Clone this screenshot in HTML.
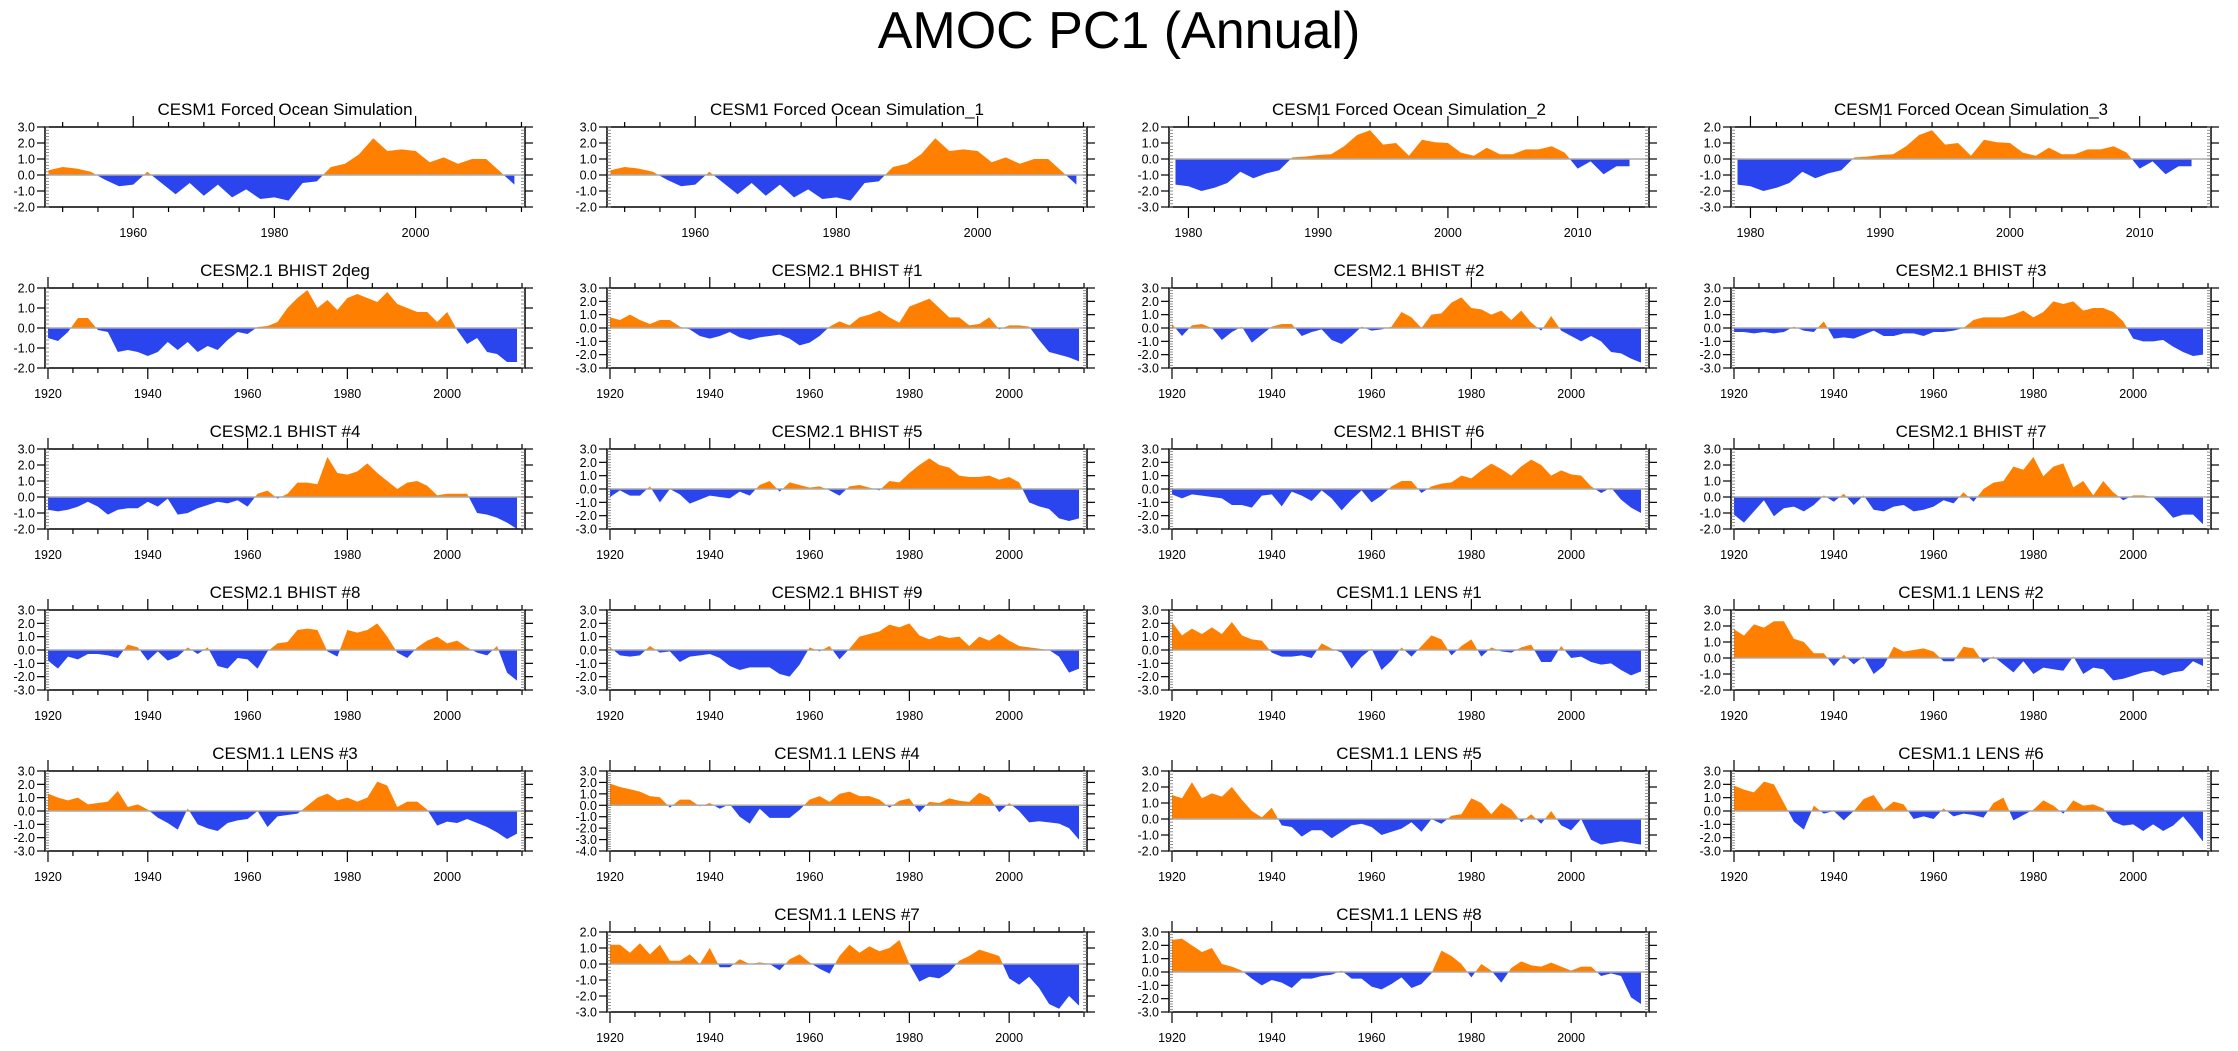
<!DOCTYPE html>
<html><head><meta charset="utf-8"><style>
html,body{margin:0;padding:0;background:#fff;}
svg{display:block;font-family:"Liberation Sans",sans-serif;}
</style></head><body>
<svg id="chart" width="2238" height="1051" viewBox="0 0 2238 1051">
<text x="1119" y="48" text-anchor="middle" font-size="52">AMOC PC1 (Annual)</text>
</svg>
<script>
// ----- data -----
const yearsForced = [1948,1950,1952,1954,1956,1958,1960,1962,1964,1966,1968,1970,1972,1974,1976,1978,1980,1982,1984,1986,1988,1990,1992,1994,1996,1998,2000,2002,2004,2006,2008,2010,2012,2014];
const forcedA = [0.3,0.5,0.4,0.2,-0.3,-0.7,-0.6,0.2,-0.5,-1.2,-0.5,-1.3,-0.6,-1.4,-0.9,-1.5,-1.4,-1.6,-0.5,-0.4,0.5,0.7,1.3,2.3,1.5,1.6,1.5,0.8,1.1,0.7,1.0,1.0,0.2,-0.6];
const yearsForcedB = [1979,1980,1981,1982,1983,1984,1985,1986,1987,1988,1989,1990,1991,1992,1993,1994,1995,1996,1997,1998,1999,2000,2001,2002,2003,2004,2005,2006,2007,2008,2009,2010,2011,2012,2013,2014];
const forcedB = [-1.6,-1.7,-2.0,-1.8,-1.5,-0.8,-1.2,-0.9,-0.7,0.1,0.15,0.25,0.3,0.8,1.5,1.8,0.9,1.0,0.2,1.2,1.05,1.0,0.4,0.2,0.7,0.3,0.3,0.6,0.6,0.8,0.4,-0.6,-0.15,-0.95,-0.45,-0.45];
const yearsLong = [];
for (let y = 1920; y <= 2014; y += 2) yearsLong.push(y);
const bhist2deg = [-0.5,-0.65,-0.2,0.5,0.5,-0.1,-0.2,-1.2,-1.1,-1.2,-1.4,-1.2,-0.7,-1.1,-0.7,-1.2,-0.9,-1.1,-0.6,-0.2,-0.3,0.05,0.1,0.3,1.0,1.5,1.9,1.0,1.4,0.9,1.5,1.7,1.5,1.3,1.8,1.2,1.0,0.8,0.8,0.3,0.8,-0.1,-0.8,-0.5,-1.2,-1.3,-1.7,-1.7];
const bhist1 = [0.8,0.6,1.0,0.6,0.3,0.6,0.6,0.1,-0.1,-0.6,-0.8,-0.6,-0.3,-0.7,-0.9,-0.7,-0.6,-0.5,-0.8,-1.3,-1.1,-0.6,0.1,0.5,0.2,0.8,1.0,1.3,0.8,0.4,1.6,1.9,2.2,1.5,0.8,0.8,0.2,0.3,0.8,-0.1,0.2,0.2,0.1,-0.9,-1.8,-2.0,-2.2,-2.5];
const bhist2 = [0.3,-0.6,0.2,0.3,0.0,-0.9,-0.3,0.1,-1.1,-0.5,0.1,0.3,0.3,-0.6,-0.3,-0.1,-0.9,-1.2,-0.6,0.1,-0.2,-0.1,0.1,1.2,0.8,0.0,1.0,1.1,1.9,2.3,1.5,1.4,1.0,1.3,0.6,1.3,0.4,-0.2,0.9,-0.2,-0.6,-1.0,-0.6,-1.0,-1.8,-1.9,-2.3,-2.6];
const bhist3 = [-0.3,-0.3,-0.4,-0.3,-0.4,-0.3,0.1,-0.2,-0.3,0.5,-0.8,-0.7,-0.8,-0.5,-0.2,-0.6,-0.6,-0.4,-0.4,-0.6,-0.3,-0.3,-0.2,0.0,0.6,0.8,0.8,0.8,1.0,1.3,0.8,1.2,2.0,1.8,2.0,1.3,1.5,1.5,1.2,0.5,-0.8,-1.0,-1.0,-0.9,-1.4,-1.8,-2.1,-2.0];
const bhist4 = [-0.8,-0.9,-0.8,-0.6,-0.3,-0.6,-1.1,-0.8,-0.7,-0.7,-0.3,-0.6,-0.1,-1.1,-1.0,-0.7,-0.5,-0.3,-0.4,-0.2,-0.6,0.2,0.4,-0.1,0.2,0.9,0.9,0.8,2.5,1.5,1.4,1.6,2.1,1.5,1.0,0.5,0.9,1.0,0.7,0.1,0.2,0.2,0.2,-1.0,-1.1,-1.3,-1.6,-2.0];
const bhist5 = [-0.6,-0.1,-0.5,-0.5,0.2,-1.0,0.0,-0.4,-1.1,-0.8,-0.5,-0.6,-0.7,-0.2,-0.5,0.3,0.6,-0.2,0.5,0.3,0.1,0.2,-0.1,-0.5,0.2,0.3,0.1,-0.1,0.6,0.5,1.2,1.8,2.3,1.8,1.6,1.0,0.9,0.9,1.0,0.7,0.9,0.5,-1.0,-1.3,-1.5,-2.2,-2.4,-2.2];
const bhist6 = [-0.4,-0.7,-0.4,-0.5,-0.6,-0.7,-1.2,-1.2,-1.4,-0.5,-0.4,-1.3,-0.2,-0.5,-0.9,-0.1,-0.7,-1.6,-0.8,-0.1,-1.0,-0.5,0.2,0.6,0.6,-0.3,0.2,0.4,0.5,1.0,0.8,1.4,1.9,1.5,1.0,1.7,2.2,1.8,1.0,1.4,1.1,1.0,0.2,-0.3,0.1,-0.8,-1.4,-1.8];
const bhist7 = [-1.1,-1.6,-0.9,-0.2,-1.2,-0.7,-0.6,-0.9,-0.5,0.1,-0.3,0.2,-0.5,0.1,-0.8,-0.9,-0.6,-0.5,-0.9,-0.8,-0.6,-0.2,-0.4,0.3,-0.3,0.5,0.9,1.0,1.9,1.7,2.5,1.3,1.9,2.1,0.6,1.0,0.1,1.0,0.3,-0.2,0.1,0.1,0.0,-0.6,-1.3,-1.1,-1.1,-1.7];
const bhist8 = [-0.8,-1.4,-0.5,-0.7,-0.3,-0.3,-0.4,-0.6,0.4,0.2,-0.8,-0.1,-0.8,-0.5,0.2,-0.3,0.2,-1.2,-1.4,-0.6,-0.7,-1.4,-0.1,0.5,0.6,1.5,1.6,1.5,-0.1,-0.5,1.5,1.3,1.5,2.0,1.0,-0.2,-0.6,0.2,0.7,1.0,0.5,0.7,0.2,-0.2,-0.4,0.3,-1.7,-2.3];
const bhist9 = [0.2,-0.4,-0.5,-0.4,0.3,-0.2,-0.1,-0.9,-0.5,-0.4,-0.3,-0.6,-1.2,-1.5,-1.3,-1.3,-1.3,-1.8,-2.0,-1.1,0.2,-0.1,0.3,-0.7,0.1,1.0,1.2,1.4,1.9,1.7,2.0,1.1,0.8,1.1,0.9,1.0,0.3,1.0,0.7,1.2,0.7,0.3,0.2,0.1,0.0,-0.5,-1.7,-1.4];
const lens1 = [2.1,1.1,1.6,1.2,1.7,1.2,2.1,1.1,0.8,0.7,-0.2,-0.5,-0.5,-0.4,-0.6,0.5,0.1,-0.2,-1.4,-0.5,0.1,-1.5,-0.8,0.2,-0.5,0.3,1.1,0.8,-0.4,0.3,0.8,-0.5,0.2,-0.1,-0.2,0.2,0.4,-0.9,-0.9,0.3,-0.6,-0.5,-0.9,-1.1,-1.0,-1.5,-1.9,-1.6];
const lens2 = [1.8,1.4,2.1,1.9,2.3,2.3,1.2,1.0,0.3,0.3,-0.5,0.2,-0.4,0.1,-1.0,-0.5,0.7,0.4,0.5,0.6,0.4,-0.2,-0.2,0.7,0.6,-0.3,0.1,-0.4,-0.9,-0.2,-1.0,-0.6,-0.7,-0.8,0.1,-1.0,-0.6,-0.7,-1.4,-1.3,-1.1,-0.9,-0.8,-1.1,-0.9,-0.8,-0.2,-0.5];
const lens3 = [1.3,1.0,0.8,1.0,0.5,0.6,0.7,1.5,0.3,0.5,0.1,-0.5,-0.9,-1.4,0.2,-1.0,-1.3,-1.5,-0.9,-0.7,-0.6,0.0,-1.2,-0.4,-0.3,-0.2,0.4,1.0,1.3,0.8,1.0,0.7,1.0,2.2,1.9,0.3,0.7,0.7,0.1,-1.1,-0.8,-0.9,-0.6,-0.9,-1.2,-1.6,-2.1,-1.7];
const lens4 = [1.9,1.6,1.4,1.2,0.8,0.7,-0.2,0.5,0.5,-0.1,0.2,-0.3,0.1,-1.0,-1.6,-0.3,-1.1,-1.1,-1.1,-0.4,0.5,0.8,0.3,1.0,1.2,0.8,0.8,0.5,-0.2,0.4,0.6,-0.6,0.3,0.2,0.6,0.4,0.3,1.1,0.7,-0.6,0.2,-0.5,-1.5,-1.4,-1.5,-1.6,-2.0,-3.0];
const lens5 = [1.5,1.3,2.3,1.3,1.6,1.4,2.0,1.2,0.5,0.1,0.7,-0.4,-0.5,-1.1,-0.7,-0.7,-1.2,-0.8,-0.4,-0.3,-0.5,-1.0,-0.8,-0.6,-0.2,-0.8,0.0,-0.3,0.2,0.3,1.3,1.0,0.3,1.0,0.6,-0.2,0.3,-0.3,0.5,-0.4,-0.7,0.0,-1.3,-1.6,-1.5,-1.4,-1.5,-1.6];
const lens6 = [1.9,1.6,1.4,2.2,2.0,0.6,-0.8,-1.4,0.4,-0.2,0.0,-0.7,0.0,0.9,1.2,0.1,0.7,0.5,-0.6,-0.4,-0.6,0.2,-0.4,-0.2,-0.3,-0.5,0.6,1.0,-0.7,-0.3,0.1,0.8,0.4,-0.2,0.8,0.4,0.5,0.2,-0.8,-1.1,-1.0,-1.5,-1.0,-1.5,-1.1,-0.4,-1.3,-2.3];
const lens7 = [1.2,1.2,0.7,1.3,0.6,1.2,0.2,0.2,0.6,0.0,1.0,-0.2,-0.2,0.3,0.0,0.1,0.0,-0.4,0.3,0.6,0.1,-0.3,-0.6,0.5,1.2,0.7,1.1,0.8,1.0,1.5,0.0,-1.1,-0.8,-0.9,-0.5,0.2,0.5,0.9,0.7,0.5,-0.9,-1.3,-0.8,-1.5,-2.5,-2.8,-2.0,-2.6];
const lens8 = [2.4,2.5,2.0,1.5,1.8,0.6,0.4,0.1,-0.5,-1.0,-0.6,-0.8,-1.2,-0.5,-0.5,-0.3,-0.2,0.1,-0.5,-0.5,-1.1,-1.3,-0.9,-0.4,-1.2,-0.9,-0.1,1.6,1.2,0.6,-0.4,0.6,0.1,-0.8,0.3,0.8,0.5,0.4,0.7,0.4,0.1,0.4,0.4,-0.3,-0.1,-0.3,-1.9,-2.4];

const panelTitles = ["CESM1 Forced Ocean Simulation","CESM1 Forced Ocean Simulation_1","CESM1 Forced Ocean Simulation_2","CESM1 Forced Ocean Simulation_3","CESM2.1 BHIST 2deg","CESM2.1 BHIST #1","CESM2.1 BHIST #2","CESM2.1 BHIST #3","CESM2.1 BHIST #4","CESM2.1 BHIST #5","CESM2.1 BHIST #6","CESM2.1 BHIST #7","CESM2.1 BHIST #8","CESM2.1 BHIST #9","CESM1.1 LENS #1","CESM1.1 LENS #2","CESM1.1 LENS #3","CESM1.1 LENS #4","CESM1.1 LENS #5","CESM1.1 LENS #6","CESM1.1 LENS #7","CESM1.1 LENS #8"];
const yMax = [3,3,2,2, 2,3,3,3, 3,3,3,3, 3,3,3,3, 3,3,3,3, 2,3];
const yMin = [-2,-2,-3,-3, -2,-3,-3,-3, -2,-3,-3,-2, -3,-3,-3,-2, -3,-4,-2,-3, -3,-3];
const xMin = [1947.5,1947.5,1978.5,1978.5];
const xMax = [2015.5,2015.5,2015.5,2015.5];

const seriesYears = [yearsForced,yearsForced,yearsForcedB,yearsForcedB];
const seriesVals = [forcedA,forcedA,forcedB,forcedB,bhist2deg,bhist1,bhist2,bhist3,bhist4,bhist5,bhist6,bhist7,bhist8,bhist9,lens1,lens2,lens3,lens4,lens5,lens6,lens7,lens8];

// ----- drawing -----
const NS = "http://www.w3.org/2000/svg";
const svg = document.getElementById("chart");
function mk(tag, attrs, parent){
  const e = document.createElementNS(NS, tag);
  for (const k in attrs) e.setAttribute(k, attrs[k]);
  (parent||svg).appendChild(e);
  return e;
}
const PW = 480, PH = 80;
function panelPos(i){
  if (i < 20) return {c: i % 4, r: Math.floor(i/4)};
  return {c: i - 19, r: 5};
}
for (let i = 0; i < seriesVals.length; i++){
  const p = panelPos(i);
  const L = 45 + 562*p.c, T = 127 + 161*p.r;
  const g = mk("g", {});
  
  
  const yrs = i < 4 ? seriesYears[i] : yearsLong;
  const vals = seriesVals[i];
  const x0 = i < 4 ? xMin[i] : 1919.4, x1 = i < 4 ? xMax[i] : 2015.6;
  const ymx = yMax[i], ymn = yMin[i];
  const sx = v => L + (v - x0) / (x1 - x0) * PW;
  const sy = v => T + (ymx - v) / (ymx - ymn) * PH;
  const t = mk("text", {x: L + PW/2, y: T - 12, "text-anchor": "middle", "font-size": 17}, g);
  t.textContent = panelTitles[i];
  
  
  const z = sy(0);
  let d = "M" + sx(yrs[0]) + "," + z;
  for (let k = 0; k < vals.length; k++) d += " L" + sx(yrs[k]) + "," + sy(vals[k]);
  d += " L" + sx(yrs[yrs.length-1]) + "," + z + " Z";
  const cidA = "ca" + i, cidB = "cb" + i;
  const defs = mk("defs", {}, g);
  const cpA = mk("clipPath", {id: cidA}, defs);
  mk("rect", {x: L, y: T, width: PW, height: z - T}, cpA);
  const cpB = mk("clipPath", {id: cidB}, defs);
  mk("rect", {x: L, y: z, width: PW, height: T + PH - z}, cpB);
  const pa = mk("path", {d: d, fill: "#ff8000", "clip-path": "url(#" + cidA + ")"}, g);
  
  
  const pb = mk("path", {d: d, fill: "#2a44ee", "clip-path": "url(#" + cidB + ")"}, g);
  
  
  const zl = mk("line", {x1: L, x2: L + PW, y1: z, y2: z, stroke: "#aaa", "stroke-width": 1.5}, g);
  
  
  const fr = mk("rect", {x: L, y: T, width: PW, height: PH, fill: "none", stroke: "#000", "stroke-width": 1.5}, g);
  
  
  for (let v = ymn; v <= ymx + 1e-6; v += 1){
    const y = sy(v);
    mk("line", {x1: L - 8, x2: L, y1: y, y2: y, stroke: "#000", "stroke-width": 1.2}, g);
    mk("line", {x1: L + PW, x2: L + PW + 8, y1: y, y2: y, stroke: "#000", "stroke-width": 1.2}, g);
    const lb = mk("text", {x: L - 10, y: y + 4.5, "text-anchor": "end", "font-size": 12.5}, g);
    lb.textContent = v.toFixed(1);
    
    
  }
  for (let v = ymn; v <= ymx + 1e-6; v += 0.2){
    const y = sy(v);
    mk("line", {x1: L, x2: L + 4, y1: y, y2: y, stroke: "#777", "stroke-width": 0.8}, g);
    mk("line", {x1: L + PW - 4, x2: L + PW, y1: y, y2: y, stroke: "#777", "stroke-width": 0.8}, g);
  }
  const maj = i < 2 ? 20 : (i < 4 ? 10 : 20);
  const mnr = i < 2 ? 5 : (i < 4 ? 2 : 5);
  for (let v = Math.ceil(x0 / mnr) * mnr; v <= x1; v += mnr){
    const x = sx(v), isMaj = v % maj === 0;
    const len = isMaj ? 11 : 5;
    mk("line", {x1: x, x2: x, y1: T + PH, y2: T + PH + len, stroke: "#000", "stroke-width": 1.2}, g);
    mk("line", {x1: x, x2: x, y1: T - len, y2: T, stroke: "#000", "stroke-width": 1.2}, g);
    if (isMaj){
      const lb = mk("text", {x: x, y: T + PH + 30, "text-anchor": "middle", "font-size": 12.5}, g);
      lb.textContent = v;
      
      
    }
  }
}
</script>
</body></html>
